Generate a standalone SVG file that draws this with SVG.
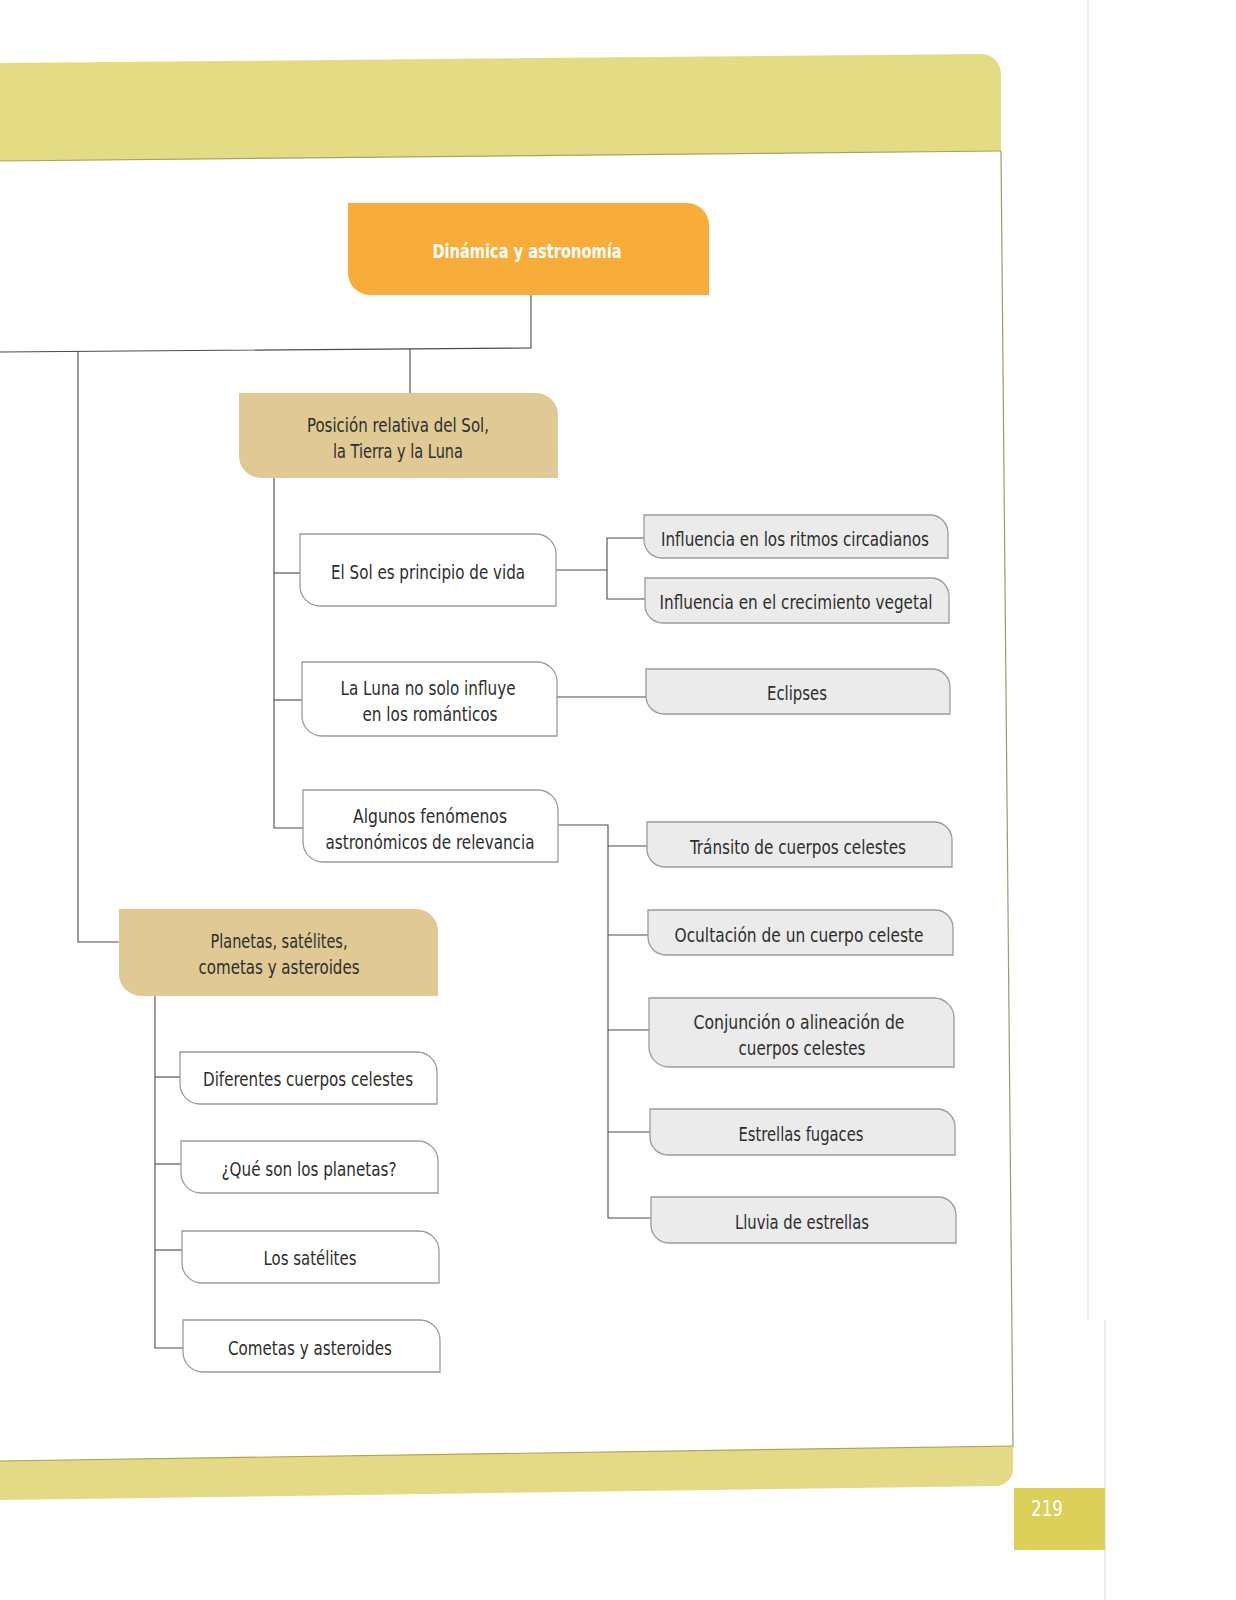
<svg xmlns="http://www.w3.org/2000/svg" width="1236" height="1600" viewBox="0 0 1236 1600">
<style>
text{font-family:"Liberation Sans Narrow","DejaVu Sans Condensed","Liberation Sans",sans-serif;font-size:20px;fill:#2e2e2e;text-anchor:middle}
.w{fill:#ffffff;stroke:#9b9b9b;stroke-width:1.3}
.g{fill:#ebebeb;stroke:#9b9b9b;stroke-width:1.3}
.t{fill:#e0c994}
.o{fill:#f8ac3a}
.lt{fill:#ffffff;font-weight:bold;font-size:19px}
#connectors path{fill:none;stroke:#4a4a4a;stroke-width:1.1}
</style>
<rect width="1236" height="1600" fill="#ffffff"/>
<g id="page">
<line x1="1088" y1="0" x2="1088" y2="1320" stroke="#e6e6e6" stroke-width="1.5"/>
<line x1="1105" y1="1320" x2="1105" y2="1600" stroke="#e6e6e6" stroke-width="1.5"/>
<path d="M0,63 L982,54 A20,20 0 0 1 1001,74 V151 L0,161 Z" fill="#e3dc85"/>
<line x1="0" y1="161" x2="1001" y2="151" stroke="#aaa35a" stroke-width="1.2"/>
<line x1="1001" y1="151" x2="1013" y2="1447" stroke="#9d9a72" stroke-width="1.2"/>
<path d="M0,1461 L1013,1446 V1470 A18,18 0 0 1 996,1486 L0,1500 Z" fill="#e4d985"/>
<line x1="0" y1="1461" x2="1013" y2="1446" stroke="#aaa35a" stroke-width="1.2"/>
<rect x="1014" y="1488" width="91" height="62" fill="#dccf5a"/>
<text x="1047" y="1516" style="fill:#ffffff;font-size:22px" textLength="32" lengthAdjust="spacingAndGlyphs">219</text>
</g>
<g id="connectors">
<path d="M531,295 V348 L0,352"/>
<path d="M410,349 V393"/>
<path d="M78,351 V942 H119"/>
<path d="M274,478 V828 H303"/>
<path d="M274,573 H300"/>
<path d="M274,700 H302"/>
<path d="M556,570 H607"/>
<path d="M644,538 H607 V599 H645"/>
<path d="M557,697 H646"/>
<path d="M558,825 H608 V1218 H651"/>
<path d="M608,846 H647"/>
<path d="M608,935 H648"/>
<path d="M608,1030 H649"/>
<path d="M608,1132 H650"/>
<path d="M155,996 V1348 H183"/>
<path d="M155,1077 H180"/>
<path d="M155,1164 H181"/>
<path d="M155,1250 H182"/>
</g>
<g id="n-root">
<path class="o" d="M348,203 H687 A22,22 0 0 1 709,225 V295 H370 A22,22 0 0 1 348,273 Z"/>
<text class="lt" x="527" y="258" textLength="189" lengthAdjust="spacingAndGlyphs">Dinámica y astronomía</text>
</g>
<g id="n-posicion">
<path class="t" d="M239,393 H536 A22,22 0 0 1 558,415 V478 H261 A22,22 0 0 1 239,456 Z"/>
<text x="398" y="432" textLength="182" lengthAdjust="spacingAndGlyphs">Posición relativa del Sol,</text>
<text x="398" y="458" textLength="130" lengthAdjust="spacingAndGlyphs">la Tierra y la Luna</text>
</g>
<g id="n-planetas">
<path class="t" d="M119,909 H416 A22,22 0 0 1 438,931 V996 H141 A22,22 0 0 1 119,974 Z"/>
<text x="279" y="948" textLength="137" lengthAdjust="spacingAndGlyphs">Planetas, satélites,</text>
<text x="279" y="974" textLength="161" lengthAdjust="spacingAndGlyphs">cometas y asteroides</text>
</g>
<g id="n-sol">
<path class="w" d="M300,534 H536 A20,20 0 0 1 556,554 V606 H320 A20,20 0 0 1 300,586 Z"/>
<text x="428" y="579" textLength="194" lengthAdjust="spacingAndGlyphs">El Sol es principio de vida</text>
</g>
<g id="n-luna">
<path class="w" d="M302,662 H537 A20,20 0 0 1 557,682 V736 H322 A20,20 0 0 1 302,716 Z"/>
<text x="428" y="695" textLength="175" lengthAdjust="spacingAndGlyphs">La Luna no solo influye</text>
<text x="430" y="721" textLength="135" lengthAdjust="spacingAndGlyphs">en los románticos</text>
</g>
<g id="n-algunos">
<path class="w" d="M303,790 H538 A20,20 0 0 1 558,810 V862 H323 A20,20 0 0 1 303,842 Z"/>
<text x="430" y="823" textLength="154" lengthAdjust="spacingAndGlyphs">Algunos fenómenos</text>
<text x="430" y="849" textLength="209" lengthAdjust="spacingAndGlyphs">astronómicos de relevancia</text>
</g>
<g id="n-ritmos">
<path class="g" d="M644,515 H930 A18,18 0 0 1 948,533 V558 H662 A18,18 0 0 1 644,540 Z"/>
<text x="795" y="546" textLength="268" lengthAdjust="spacingAndGlyphs">Influencia en los ritmos circadianos</text>
</g>
<g id="n-crecimiento">
<path class="g" d="M645,578 H931 A18,18 0 0 1 949,596 V623 H663 A18,18 0 0 1 645,605 Z"/>
<text x="796" y="609" textLength="273" lengthAdjust="spacingAndGlyphs">Influencia en el crecimiento vegetal</text>
</g>
<g id="n-eclipses">
<path class="g" d="M646,669 H932 A18,18 0 0 1 950,687 V714 H664 A18,18 0 0 1 646,696 Z"/>
<text x="797" y="700" textLength="60" lengthAdjust="spacingAndGlyphs">Eclipses</text>
</g>
<g id="n-transito">
<path class="g" d="M647,822 H934 A18,18 0 0 1 952,840 V867 H665 A18,18 0 0 1 647,849 Z"/>
<text x="798" y="854" textLength="216" lengthAdjust="spacingAndGlyphs">Tránsito de cuerpos celestes</text>
</g>
<g id="n-ocultacion">
<path class="g" d="M648,910 H935 A18,18 0 0 1 953,928 V955 H666 A18,18 0 0 1 648,937 Z"/>
<text x="799" y="942" textLength="249" lengthAdjust="spacingAndGlyphs">Ocultación de un cuerpo celeste</text>
</g>
<g id="n-conjuncion">
<path class="g" d="M649,998 H934 A20,20 0 0 1 954,1018 V1067 H669 A20,20 0 0 1 649,1047 Z"/>
<text x="799" y="1029" textLength="211" lengthAdjust="spacingAndGlyphs">Conjunción o alineación de</text>
<text x="802" y="1055" textLength="127" lengthAdjust="spacingAndGlyphs">cuerpos celestes</text>
</g>
<g id="n-estrellas">
<path class="g" d="M650,1109 H937 A18,18 0 0 1 955,1127 V1155 H668 A18,18 0 0 1 650,1137 Z"/>
<text x="801" y="1141" textLength="125" lengthAdjust="spacingAndGlyphs">Estrellas fugaces</text>
</g>
<g id="n-lluvia">
<path class="g" d="M651,1197 H938 A18,18 0 0 1 956,1215 V1243 H669 A18,18 0 0 1 651,1225 Z"/>
<text x="802" y="1229" textLength="134" lengthAdjust="spacingAndGlyphs">Lluvia de estrellas</text>
</g>
<g id="n-diferentes">
<path class="w" d="M180,1052 H417 A20,20 0 0 1 437,1072 V1104 H200 A20,20 0 0 1 180,1084 Z"/>
<text x="308" y="1086" textLength="210" lengthAdjust="spacingAndGlyphs">Diferentes cuerpos celestes</text>
</g>
<g id="n-que">
<path class="w" d="M181,1141 H418 A20,20 0 0 1 438,1161 V1193 H201 A20,20 0 0 1 181,1173 Z"/>
<text x="309" y="1176" textLength="175" lengthAdjust="spacingAndGlyphs">¿Qué son los planetas?</text>
</g>
<g id="n-satelites">
<path class="w" d="M182,1231 H419 A20,20 0 0 1 439,1251 V1283 H202 A20,20 0 0 1 182,1263 Z"/>
<text x="310" y="1265" textLength="93" lengthAdjust="spacingAndGlyphs">Los satélites</text>
</g>
<g id="n-cometas">
<path class="w" d="M183,1320 H420 A20,20 0 0 1 440,1340 V1372 H203 A20,20 0 0 1 183,1352 Z"/>
<text x="310" y="1355" textLength="164" lengthAdjust="spacingAndGlyphs">Cometas y asteroides</text>
</g>
</svg>
